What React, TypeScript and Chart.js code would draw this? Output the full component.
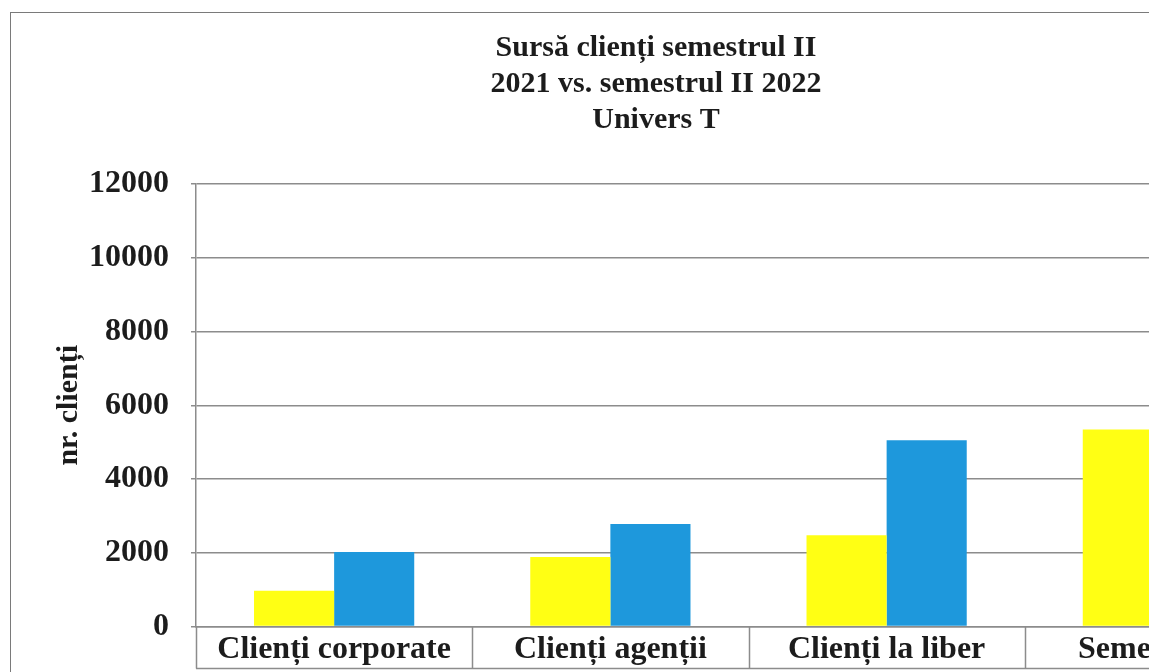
import React, { useEffect, useRef } from "react";
import { Chart, registerables } from "chart.js";

Chart.register(...registerables);

const categories = ["Clienți corporate", "Clienți agenții", "Clienți la liber", "Semestrul II"];
const series2021 = [975, 1890, 2480, 5345];
const series2022 = [2020, 2780, 5050, 9850];
const seriesNames = ["Semestrul II 2021", "Semestrul II 2022"];
const titleLines = ["Sursă clienți semestrul II", "2021 vs. semestrul II 2022", "Univers T"];
const yAxisTitle = "nr. clienți";
const yMin = 0;
const yMax = 12000;
const yStep = 2000;

const FONT = "'Liberation Serif', 'Times New Roman', serif";
const TEXT = "#1c1c1c";
const GRID = "#8c8c8c";

const tablePlugin = {
  id: "categoryTable",
  afterDraw(chart: any) {
    const xs = chart.scales.x;
    const area = chart.chartArea;
    const ctx = chart.ctx;
    const n = categories.length;
    const w = (area.right - area.left) / n;
    const boxBottom = area.bottom + 42;
    ctx.save();
    ctx.strokeStyle = GRID;
    ctx.lineWidth = 1.5;
    ctx.beginPath();
    for (let i = 0; i <= n; i++) {
      const x = Math.round(xs.left + i * w) + 0.5;
      ctx.moveTo(x, area.bottom);
      ctx.lineTo(x, boxBottom);
    }
    ctx.moveTo(area.left, boxBottom);
    ctx.lineTo(area.right, boxBottom);
    ctx.stroke();
    ctx.restore();
  },
};

export default function App() {
  const ref = useRef<HTMLCanvasElement | null>(null);
  useEffect(() => {
    document.body.style.overflow = "hidden";
    const canvas = ref.current;
    if (!canvas) return;
    const chart = new Chart(canvas, {
      type: "bar",
      data: {
        labels: categories,
        datasets: [
          {
            label: seriesNames[0],
            data: series2021,
            backgroundColor: "#FFFF14",
            borderWidth: 0,
            categoryPercentage: 0.58,
            barPercentage: 1.0,
          },
          {
            label: seriesNames[1],
            data: series2022,
            backgroundColor: "#1E98DC",
            borderWidth: 0,
            categoryPercentage: 0.58,
            barPercentage: 1.0,
          },
        ],
      },
      options: {
        animation: false,
        responsive: false,
        maintainAspectRatio: false,
        layout: { padding: { left: 0, right: 15, top: 0, bottom: 28 } },
        plugins: {
          legend: { display: false },
          tooltip: { enabled: false },
          title: {
            display: true,
            text: titleLines,
            color: TEXT,
            font: { family: FONT, size: 30, weight: "bold", lineHeight: 1.2 },
            padding: { top: 17, bottom: 46 },
          },
        },
        scales: {
          x: {
            grid: { display: false },
            border: { display: true, color: GRID, width: 1.5 },
            ticks: {
              color: TEXT,
              font: { family: FONT, size: 32, weight: "bold", lineHeight: 1.2 },
              padding: -4,
              maxRotation: 0,
              autoSkip: false,
            },
          },
          y: {
            min: yMin,
            max: yMax,
            ticks: {
              stepSize: yStep,
              color: TEXT,
              font: { family: FONT, size: 32, weight: "bold", lineHeight: 1.2 },
              padding: 22,
              callback: (v: any) => String(v),
            },
            grid: { color: GRID, lineWidth: 1.5, tickLength: 5 },
            border: { display: true, color: GRID, width: 1.5 },
            title: {
              display: true,
              text: yAxisTitle,
              color: TEXT,
              font: { family: FONT, size: 30, weight: "bold", lineHeight: 1.2 },
              padding: { top: 40, bottom: 0 },
            },
            afterFit(scale: any) {
              scale.width = 185;
            },
          },
        },
      },
      plugins: [tablePlugin],
    });
    return () => chart.destroy();
  }, []);

  return (
    <div
      style={{
        position: "fixed",
        left: 10,
        top: 12,
        width: 1305,
        height: 690,
        border: "1.5px solid #7a7a7a",
        background: "#fff",
        boxSizing: "border-box",
      }}
    >
      <canvas ref={ref} width={1305} height={680} style={{ display: "block" }} />
    </div>
  );
}
